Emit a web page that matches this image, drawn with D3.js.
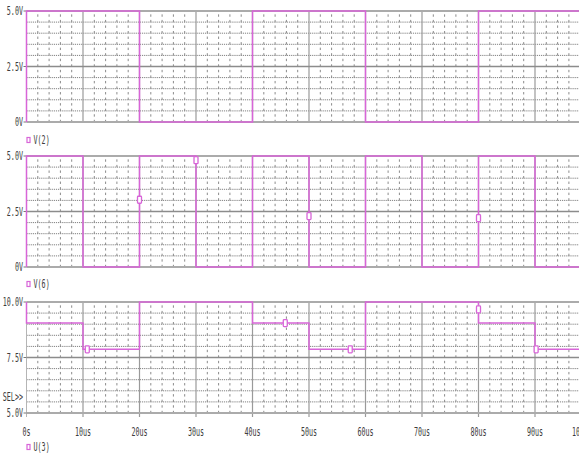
<!DOCTYPE html>
<html><head><meta charset="utf-8">
<script src="https://cdn.jsdelivr.net/npm/d3@7"></script>
<style>html,body{margin:0;padding:0;background:#fff;}</style>
</head><body>
<script>
// ---- data ----
const xTicks = [0,10,20,30,40,50,60,70,80,90,100];
const xTickLabels = ["0s","10us","20us","30us","40us","50us","60us","70us","80us","90us","100us"];

const v2Times = [0,0,20,20,40,40,60,60,80,80,100];
const v2Vals  = [0,5,5,0,0,5,5,0,0,5,5];

const v6Times = [0,0,10,10,20,20,30,30,40,40,50,50,60,60,70,70,80,80,90,90,100];
const v6Vals  = [0,5,5,0,0,5,5,0,0,5,5,0,0,5,5,0,0,5,5,0,0];
const v6MarkT = [20,30,50,80];
const v6MarkV = [3.03,4.81,2.29,2.2];

const u3Times = [0,0,10,10,20,20,40,40,50,50,60,60,80,80,90,90,100];
const u3Vals  = [10,9.05,9.05,7.87,7.87,10,10,9.05,9.05,7.87,7.87,10,10,9.05,9.05,7.87,7.87];
const u3MarkT = [10.76,45.8,57.3,80,90.2];
const u3MarkV = [7.87,9.05,7.87,9.67,7.87];

const p1Ticks = [0,2.5,5], p1Labels = ["0V","2.5V","5.0V"];
const p2Ticks = [0,2.5,5], p2Labels = ["0V","2.5V","5.0V"];
const p3Ticks = [5,7.5,10], p3Labels = ["5.0V","7.5V","10.0V"];

const W = 579, H = 455;
const TRACE = "#d865d8";
const TXT = "#3c3c3c";

const svg = d3.select("body").append("svg").attr("width",W).attr("height",H)
  .style("display","block");
svg.append("rect").attr("width",W).attr("height",H).attr("fill","#fff");

const x = d3.scaleLinear().domain([0,100]).range([26.5,591.5]);

function label(g, str, px, py, anchor){
  const t = g.append("g").attr("transform",`translate(${px},${py}) scale(0.56,1)`);
  t.append("text").text(str).attr("x",0).attr("y",0)
    .attr("text-anchor",anchor).attr("dominant-baseline","central")
    .attr("font-family","DejaVu Sans Mono").attr("font-size",12)
    .attr("fill",TXT);
}

const panels = [
  {top:11, dom:[0,5], ticks:p1Ticks, labels:p1Labels, t:v2Times, v:v2Vals, mt:[], mv:[], name:"V(2)", legY:140},
  {top:156, dom:[0,5], ticks:p2Ticks, labels:p2Labels, t:v6Times, v:v6Vals, mt:v6MarkT, mv:v6MarkV, name:"V(6)", legY:284},
  {top:302, dom:[5,10], ticks:p3Ticks, labels:p3Labels, t:u3Times, v:u3Vals, mt:u3MarkT, mv:u3MarkV, name:"U(3)", legY:447, sel:true}
];
const PH = 111;

panels.forEach((p,pi)=>{
  const y = d3.scaleLinear().domain(p.dom).range([p.top+PH, p.top]);
  const g = svg.append("g");
  const x0 = x(0), x1 = W;
  // minor horizontal dotted lines
  const minorY = d3.range(1,10).filter(i=>i!==5).map(i=>p.dom[0]+i*(p.dom[1]-p.dom[0])/10);
  g.selectAll(".mh").data(minorY).enter().append("line")
    .attr("x1",x0).attr("x2",x1).attr("y1",d=>y(d)).attr("y2",d=>y(d))
    .attr("stroke","#808080").attr("stroke-width",1).attr("stroke-dasharray","1.2,0.9");
  // minor vertical dashed lines
  const minorX = d3.range(0,101,2).filter(d=>d%10!==0);
  g.selectAll(".mv").data(minorX).enter().append("line")
    .attr("x1",d=>x(d)).attr("x2",d=>x(d)).attr("y1",p.top-1).attr("y2",p.top+PH+1)
    .attr("stroke","#8a8a8a").attr("stroke-width",1).attr("stroke-dasharray","2.4,3.15")
    .attr("stroke-dashoffset",1.2);
  // major vertical
  g.selectAll(".Mv").data(xTicks.filter(d=>d>0)).enter().append("line")
    .attr("x1",d=>x(d)).attr("x2",d=>x(d)).attr("y1",p.top).attr("y2",p.top+PH+(pi===2?4:0))
    .attr("stroke","#9a9a9a").attr("stroke-width",1.2);
  // middle line
  g.append("line").attr("x1",x0).attr("x2",x1).attr("y1",y(p.ticks[1])).attr("y2",y(p.ticks[1]))
    .attr("stroke","#8c8c8c").attr("stroke-width",1.6);
  // top/bottom borders
  [p.dom[0],p.dom[1]].forEach(v=>{
    g.append("line").attr("x1",x0).attr("x2",x1).attr("y1",y(v)).attr("y2",y(v))
      .attr("stroke","#ababab").attr("stroke-width",2);
  });
  // left axis
  g.append("line").attr("x1",x0).attr("x2",x0).attr("y1",p.top).attr("y2",p.top+PH+(pi===2?4:0))
    .attr("stroke","#b5b5b5").attr("stroke-width",1);
  // y ticks and labels
  p.ticks.forEach((tv,i)=>{
    g.append("line").attr("x1",x0-3).attr("x2",x0).attr("y1",y(tv)).attr("y2",y(tv))
      .attr("stroke","#777").attr("stroke-width",1);
    label(g, p.labels[i], 23, y(tv), "end");
  });
  if(p.sel) label(g, "SEL>>", 23, 396.5, "end");
  // trace
  const pts = p.t.map((t,i)=>[t,p.v[i]]);
  g.append("path").datum(pts)
    .attr("d", d3.line().x(d=>x(d[0])).y(d=>y(d[1])))
    .attr("fill","none").attr("stroke",TRACE).attr("stroke-width",1.5);
  // markers
  p.mt.forEach((t,i)=>{
    g.append("rect").attr("x",x(t)-2).attr("y",y(p.mv[i])-3.5).attr("width",4).attr("height",7)
      .attr("rx",0.8).attr("fill","#fff").attr("stroke",TRACE).attr("stroke-width",1.3);
  });
  // legend
  g.append("rect").attr("x",27).attr("y",p.legY-2.5).attr("width",3).attr("height",5)
    .attr("fill","#fff").attr("stroke",TRACE).attr("stroke-width",1.2);
  label(g, p.name, 33.5, p.legY, "start");
  // x axis labels on last panel
  if(pi===2){
    xTicks.forEach((t,i)=>{
      label(g, xTickLabels[i], Math.min(x(t), 582), 432, "middle");
    });
  }
});
</script>
</body></html>
